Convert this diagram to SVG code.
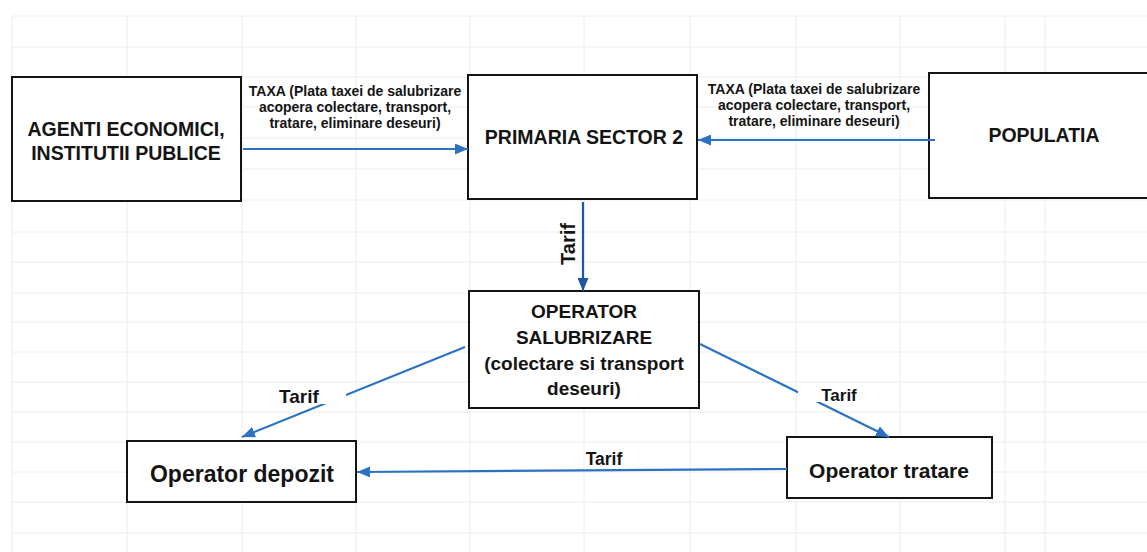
<svg xmlns="http://www.w3.org/2000/svg" width="1147" height="552" viewBox="0 0 1147 552">
<style>
.grid line{stroke:#ececec;stroke-width:1}
.box{fill:#fff;stroke:#141414;stroke-width:2}
.t{font-family:"Liberation Sans",Arial,sans-serif;font-weight:bold;fill:#141414;text-anchor:middle}
.n{font-size:19.5px}
.s{font-size:14px}
.c{stroke:#2b73c2;stroke-width:2.2;fill:none}
</style>
<defs>
<marker id="ah" viewBox="0 0 13 11" refX="13" refY="5.5" markerWidth="13" markerHeight="11" markerUnits="userSpaceOnUse" orient="auto"><path d="M0,0 L13,5.5 L0,11 z" fill="#2b73c2"/></marker>
<marker id="ahd" viewBox="0 0 13 11" refX="13" refY="5.5" markerWidth="13" markerHeight="11" markerUnits="userSpaceOnUse" orient="auto"><path d="M0,0 L13,5.5 L0,11 z" fill="#1f56a3"/></marker>
</defs>
<rect width="1147" height="552" fill="#fff"/>
<g class="grid">
<line x1="12" y1="16" x2="12" y2="552"/><line x1="127" y1="16" x2="127" y2="552"/><line x1="242" y1="16" x2="242" y2="552"/><line x1="356" y1="16" x2="356" y2="552"/><line x1="470" y1="16" x2="470" y2="552"/><line x1="584" y1="16" x2="584" y2="552"/><line x1="690" y1="16" x2="690" y2="552"/><line x1="796" y1="16" x2="796" y2="552"/><line x1="900" y1="16" x2="900" y2="552"/><line x1="1005" y1="16" x2="1005" y2="552"/><line x1="1045" y1="16" x2="1045" y2="552"/>
<line x1="12" y1="16" x2="1147" y2="16"/><line x1="12" y1="47" x2="1147" y2="47"/><line x1="12" y1="77" x2="1147" y2="77"/><line x1="12" y1="107" x2="1147" y2="107"/><line x1="12" y1="138" x2="1147" y2="138"/><line x1="12" y1="169" x2="1147" y2="169"/><line x1="12" y1="200" x2="1147" y2="200"/><line x1="12" y1="232" x2="1147" y2="232"/><line x1="12" y1="262" x2="1147" y2="262"/><line x1="12" y1="293" x2="1147" y2="293"/><line x1="12" y1="322" x2="1147" y2="322"/><line x1="12" y1="352" x2="1147" y2="352"/><line x1="12" y1="382" x2="1147" y2="382"/><line x1="12" y1="412" x2="1147" y2="412"/><line x1="12" y1="442" x2="1147" y2="442"/><line x1="12" y1="472" x2="1147" y2="472"/><line x1="12" y1="502" x2="1147" y2="502"/><line x1="12" y1="533" x2="1147" y2="533"/>
</g>
<g id="agenti"><rect class="box" x="12" y="77" width="229" height="124"/><text class="t n" x="126" y="136">AGENTI ECONOMICI,</text><text class="t n" x="126" y="160">INSTITUTII PUBLICE</text></g>
<g id="primaria"><rect class="box" x="468" y="75" width="229" height="124"/><text class="t n" x="584" y="144">PRIMARIA SECTOR 2</text></g>
<g id="populatia"><rect class="box" x="929" y="73" width="230" height="125"/><text class="t n" x="1044" y="142">POPULATIA</text></g>
<g id="operator-salubrizare"><rect class="box" x="469" y="291" width="230" height="117"/><text class="t" style="font-size:19px" x="584" y="318">OPERATOR</text><text class="t" style="font-size:19px" x="584" y="344">SALUBRIZARE</text><text class="t" style="font-size:19px" x="584" y="370">(colectare si transport</text><text class="t" style="font-size:19px" x="584" y="395">deseuri)</text></g>
<g id="operator-depozit"><rect class="box" x="127" y="441" width="229" height="61"/><text class="t" style="font-size:23px" x="242" y="482">Operator depozit</text></g>
<g id="operator-tratare"><rect class="box" x="787" y="437" width="205" height="61"/><text class="t" style="font-size:21px" x="889" y="478">Operator tratare</text></g>
<g id="connectors">
<line class="c" x1="243" y1="149" x2="468" y2="149" marker-end="url(#ah)"/>
<text class="t s" x="355" y="96">TAXA (Plata taxei de salubrizare</text><text class="t s" x="355" y="112">acopera colectare, transport,</text><text class="t s" x="355" y="128">tratare, eliminare deseuri)</text>
<line class="c" x1="935" y1="140" x2="698" y2="140" marker-end="url(#ah)"/>
<text class="t s" x="814" y="94">TAXA (Plata taxei de salubrizare</text><text class="t s" x="814" y="110">acopera colectare, transport,</text><text class="t s" x="814" y="126">tratare, eliminare deseuri)</text>
<line x1="583" y1="202" x2="583" y2="291" stroke="#1f56a3" stroke-width="2.2" marker-end="url(#ahd)"/>
<text class="t" style="font-size:20px" x="575" y="244" transform="rotate(-90 575 244)">Tarif</text>
<line class="c" x1="465" y1="347" x2="242" y2="437" marker-end="url(#ah)"/>
<rect x="276" y="386" width="70" height="18" fill="#fff"/>
<text class="t" style="font-size:19px" x="299" y="403">Tarif</text>
<line class="c" x1="700" y1="344" x2="889" y2="437" marker-end="url(#ah)"/>
<rect x="798" y="385" width="62" height="17" fill="#fff"/>
<text class="t" style="font-size:17px" x="839" y="401">Tarif</text>
<line class="c" x1="787" y1="469" x2="357" y2="472" marker-end="url(#ah)"/>
<text class="t" style="font-size:17.5px" x="604" y="465">Tarif</text>
</g>
</svg>
